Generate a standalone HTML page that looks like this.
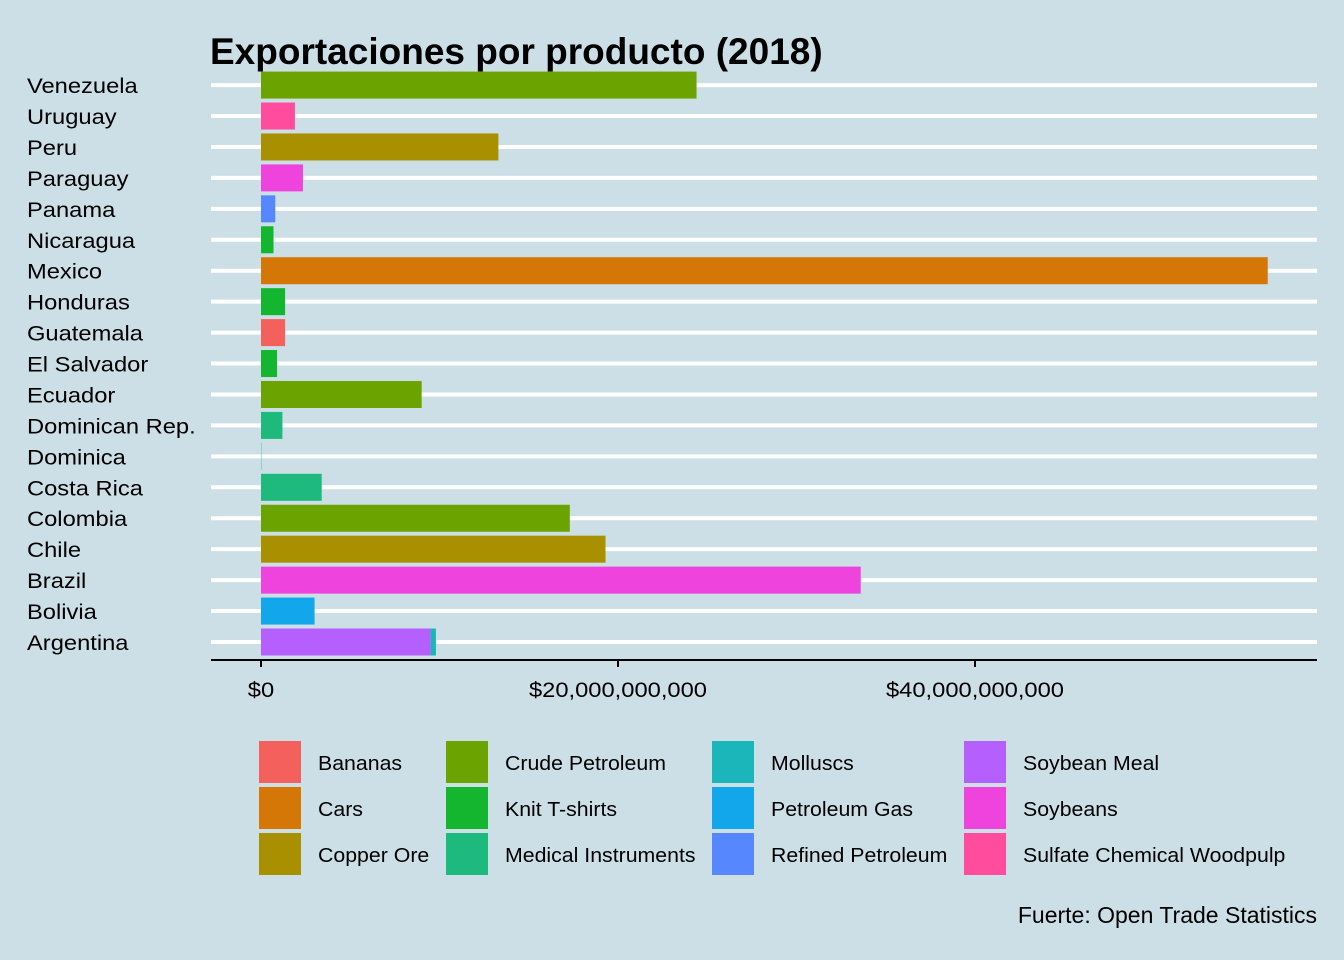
<!DOCTYPE html>
<html><head><meta charset="utf-8"><style>
body{margin:0;background:#CCDFE6;}
svg{display:block;font-family:"Liberation Sans",Arial,sans-serif;}
</style></head><body>
<svg id="chart" width="1344" height="960" xmlns="http://www.w3.org/2000/svg">
<rect width="1344" height="960" fill="#CCDFE6"/>
<text x="210" y="64" font-size="37" font-weight="bold" fill="#000">Exportaciones por producto (2018)</text>
<g id="grid"></g><g id="bars"></g><g id="ylabels"></g><g id="xaxis"></g><g id="legend"></g>
<text x="1317" y="923" font-size="23" text-anchor="end" fill="#000">Fuerte: Open Trade Statistics</text>
</svg>
<script>
const countries=["Argentina","Bolivia","Brazil","Chile","Colombia","Costa Rica","Dominica","Dominican Rep.","Ecuador","El Salvador","Guatemala","Honduras","Mexico","Nicaragua","Panama","Paraguay","Peru","Uruguay","Venezuela"];
const products=["Soybean Meal","Petroleum Gas","Soybeans","Copper Ore","Crude Petroleum","Medical Instruments","Medical Instruments","Medical Instruments","Crude Petroleum","Knit T-shirts","Bananas","Knit T-shirts","Cars","Knit T-shirts","Refined Petroleum","Soybeans","Copper Ore","Sulfate Chemical Woodpulp","Crude Petroleum"];
const values=[9.5,3.0,33.6,19.3,17.3,3.4,0.02,1.2,9.0,0.9,1.35,1.35,56.4,0.7,0.8,2.35,13.3,1.9,24.4];
const extraCountry="Argentina", extraProduct="Molluscs", extraValue=0.3;
const legendItems=["Bananas","Cars","Copper Ore","Crude Petroleum","Knit T-shirts","Medical Instruments","Molluscs","Petroleum Gas","Refined Petroleum","Soybean Meal","Soybeans","Sulfate Chemical Woodpulp"];
const colors=["#F4615C","#D47706","#A89000","#6BA300","#14B52F","#1DB97D","#1AB6B9","#12A6EA","#5687FF","#B55FFF","#EE44DD","#FF4C9C"];
const ticks=[0,20,40];
const tickLabels=["$0","$20,000,000,000","$40,000,000,000"];
const NS="http://www.w3.org/2000/svg";
const x=v=>261+v*17.85;
const y=i=>642-i*30.94;
function mk(tag,attrs,parent,txt){const e=document.createElementNS(NS,tag);for(const k in attrs)e.setAttribute(k,attrs[k]);if(txt!==undefined)e.textContent=txt;document.getElementById(parent).appendChild(e);return e;}
const col=p=>colors[legendItems.indexOf(p)];
countries.forEach((c,i)=>{
 const g=mk("line",{x1:211,x2:1317,y1:y(i),y2:y(i),stroke:"#fff","stroke-width":4},"grid");
 
 
 const b=mk("rect",{x:x(0),y:y(i)-13.5,width:x(values[i])-x(0),height:27,fill:col(products[i])},"bars");
 
 
 const t=mk("text",{x:27,y:y(i)+8,"font-size":21,"textLength":(c.length>0?null:0),fill:"#000"},"ylabels",c);
 t.removeAttribute('textLength');
 t.setAttribute('transform','translate(27,0) scale(1.13,1) translate(-27,0)');
 
 
});
const ei=countries.indexOf(extraCountry), ev=values[ei];
const eb=mk("rect",{x:x(ev),y:y(ei)-13.5,width:x(ev+extraValue)-x(ev),height:27,fill:col(extraProduct)},"bars");


const al=mk("line",{x1:211,x2:1317,y1:660,y2:660,stroke:"#000","stroke-width":2},"xaxis");


ticks.forEach((v,i)=>{
 const tk=mk("line",{x1:x(v),x2:x(v),y1:660,y2:667,stroke:"#000","stroke-width":2},"xaxis");
 
 
 const tl=mk("text",{x:x(v),y:697,"font-size":21,"text-anchor":"middle",fill:"#000",transform:`translate(${x(v)},0) scale(1.13,1) translate(${-x(v)},0)`},"xaxis",tickLabels[i]);
 
 
});
const lx=[259,446,712,964];
legendItems.forEach((p,i)=>{
 const c=Math.floor(i/3),r=i%3;
 const k=mk("rect",{x:lx[c],y:741+r*46,width:42,height:42,fill:colors[i]},"legend");
 
 
 const tx=lx[c]+59;
 const t=mk("text",{x:tx,y:770+r*46,"font-size":20,fill:"#000",transform:`translate(${tx},0) scale(1.065,1) translate(${-tx},0)`},"legend",p);
 
 
});
</script>
</body></html>
